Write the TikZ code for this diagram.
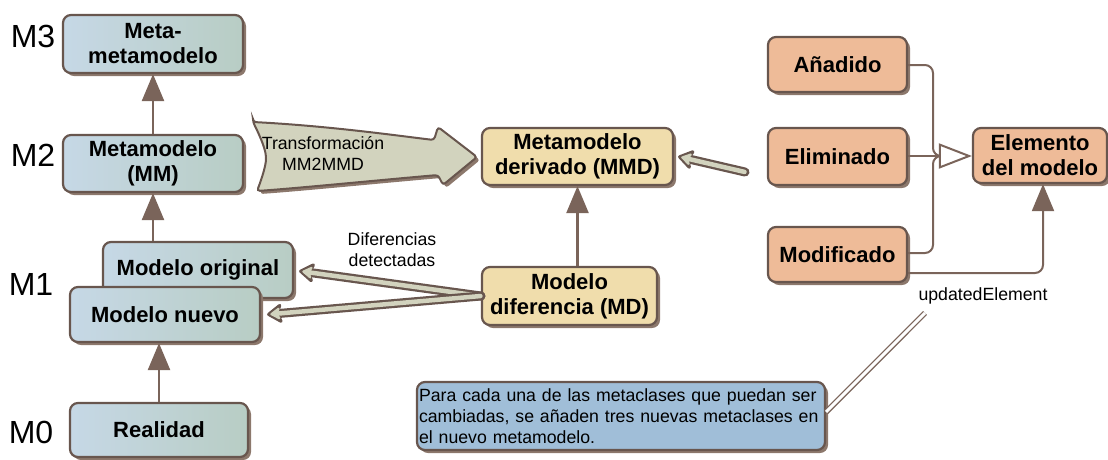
\documentclass[tikz,border=0pt]{standalone}
\usepackage{fontspec}
\setmainfont{Liberation Sans}
\usetikzlibrary{arrows.meta,shadows,calc}
\definecolor{bord}{RGB}{104,86,78}
\definecolor{shad}{RGB}{140,120,108}
\definecolor{arrc}{RGB}{122,100,90}
\definecolor{blueA}{RGB}{198,216,230}
\definecolor{blueB}{RGB}{184,205,196}
\definecolor{beige}{RGB}{240,221,172}
\definecolor{salmon}{RGB}{238,187,152}
\definecolor{fatc}{RGB}{210,211,190}
\definecolor{notec}{RGB}{160,190,216}
\begin{document}
\begin{tikzpicture}[x=1pt,y=-1pt,
  box/.style={draw=bord, line width=2.2pt, rounded corners=8pt, inner sep=0pt,
    align=center, font=\bfseries\fontsize{22}{25}\selectfont,
    general shadow={shadow xshift=3pt, shadow yshift=-3pt, fill=shad}},
  bluebox/.style={box, left color=blueA, right color=blueB},
  beigebox/.style={box, fill=beige},
  salmonbox/.style={box, fill=salmon},
  level/.style={font=\fontsize{32}{32}\selectfont, inner sep=0pt},
  small/.style={font=\fontsize{17.7}{21}\selectfont, inner sep=0pt, align=center},
  uml/.style={draw=arrc, line width=2.4pt, -{Triangle[length=27pt,width=22pt]}},
  conn/.style={draw=arrc, line width=2pt, rounded corners=8pt},
  fatA/.style={draw=bord, line width=9pt, line cap=round,
    -{Stealth[length=18pt,width=24pt,inset=5pt,round]}},
  fatB/.style={draw=fatc, line width=4.5pt, line cap=round, shorten >=3.2pt, shorten <=0.5pt,
    -{Stealth[length=12pt,width=15pt,inset=3.5pt,round]}}
]
\useasboundingbox (0,0) rectangle (1108,459);

% level labels
\node[level] (l3) at (33,36) {M3};
\node[level] (l2) at (33,155) {M2};
\node[level] (l1) at (31,284) {M1};
\node[level] (l0) at (31,432) {M0};

% left column
\node[bluebox, minimum width=180pt, minimum height=58pt] (meta) at (153,44) {Meta-\\metamodelo};
\node[bluebox, minimum width=180pt, minimum height=57pt] (mm) at (153,163.5) {Metamodelo\\(MM)};
\node[bluebox, minimum width=190pt, minimum height=56pt] (orig) at (198,270) {\raisebox{3pt}{Modelo original}};
\node[bluebox, minimum width=190pt, minimum height=55pt] (nuevo) at (165,314.5) {Modelo nuevo};
\node[bluebox, minimum width=178pt, minimum height=54pt] (real) at (159,430) {Realidad};

% middle
\node[beigebox, minimum width=191pt, minimum height=57pt] (mmd) at (577.5,156.5) {Metamodelo\\derivado (MMD)};
\node[beigebox, minimum width=175pt, minimum height=58pt] (md) at (569.5,296) {Modelo\\diferencia (MD)};

% right group
\node[salmonbox, minimum width=139pt, minimum height=55pt] (anad) at (837.5,64.5) {Añadido};
\node[salmonbox, minimum width=139pt, minimum height=57pt] (elim) at (837.5,156.5) {Eliminado};
\node[salmonbox, minimum width=139pt, minimum height=55pt] (modif) at (837.5,254.5) {Modificado};
\node[salmonbox, minimum width=134pt, minimum height=55pt] (elem) at (1040,155.5) {Elemento\\del modelo};

% note
\node[draw=bord, line width=2.2pt, rounded corners=8pt, fill=notec, text width=404pt,
  inner sep=2pt, minimum height=68pt, align=left,
  font=\fontsize{17.7}{21}\selectfont,
  general shadow={shadow xshift=3pt, shadow yshift=-3pt, fill=shad}] (note) at (621,416)
  {Para cada una de las metaclases que puedan ser\\cambiadas, se añaden tres nuevas metaclases en\\el nuevo metamodelo.};

% transformation big arrow
\draw[draw=bord, line width=2pt, fill=fatc, rounded corners=3pt,
  general shadow={shadow xshift=3pt, shadow yshift=-3pt, fill=shad}]
  (253,122) .. controls (330,126) and (400,136) .. (434,140) -- (438,127) -- (477,157)
  -- (443,185) -- (438,175) .. controls (380,180) and (300,188) .. (257,191)
  .. controls (262,178) and (266,165) .. (266,156)
  .. controls (264,145) and (258,132) .. (253,122) -- cycle;
\node[small] (trans) at (323,153) {Transformación\\MM2MMD};

% uml arrows
\draw[uml] (mm.north) -- (meta.south);
\draw[uml] (mm.south |- orig.north) -- (mm.south);
\draw[uml] (real.north) -- (real.north |- nuevo.south);
\draw[uml] (mmd.south |- md.north) -- (mmd.south);

% fat arrows
\coordinate (free) at (745,172);
\draw[fatA] (md.west) -- ([xshift=5pt,yshift=-1pt]orig.east);
\draw[fatB] (md.west) -- ([xshift=5pt,yshift=-1pt]orig.east);
\draw[fatA] (md.west) -- ([xshift=6pt]nuevo.east);
\draw[fatB] (md.west) -- ([xshift=6pt]nuevo.east);
\draw[fatA] (free) -- ([xshift=4pt]mmd.east);
\draw[fatB] (free) -- ([xshift=4pt]mmd.east);
\node[small] (dif) at (392,250) {Diferencias\\detectadas};

% generalization
\coordinate (jn) at (933,156);
\draw[conn] (anad.east |- 0,65) -| (jn) -- (945,156);
\draw[conn] (modif.east |- 0,253) -| (jn) -- (945,156);
\draw[draw=arrc, line width=2pt, -{Triangle[open, fill=white, length=33pt, width=25pt, line width=2pt]}]
  (elim.east |- 0,156) -- (elem.west |- 0,156);

% association
\draw[conn, -{Triangle[length=27pt,width=22pt]}] (modif.east |- 0,273) -| (1043,0 |- elem.south);
\node[small] (upd) at (983,296) {updatedElement};

% note connector
\coordinate (ncor) at (925,313);
\draw[draw=arrc, double=white, double distance=3pt, line width=1.3pt] ([yshift=4pt]note.east) -- (ncor);
\end{tikzpicture}
\end{document}
